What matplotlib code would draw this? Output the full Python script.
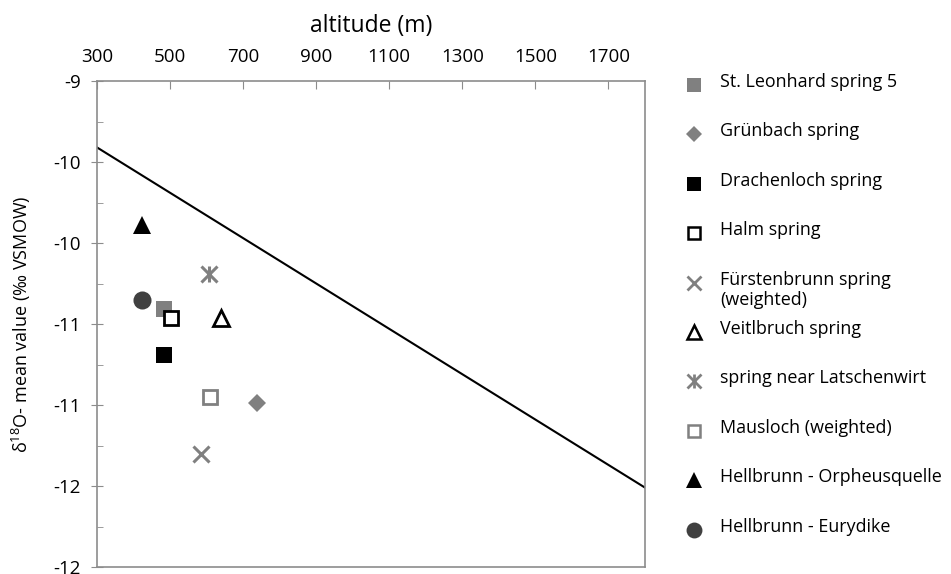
import matplotlib
matplotlib.use("Agg")
import matplotlib.pyplot as plt
from matplotlib.ticker import MultipleLocator, FuncFormatter
import math

plt.rcParams['font.family'] = ['Open Sans', 'DejaVu Sans']
plt.rcParams['mathtext.fontset'] = 'custom'
plt.rcParams['mathtext.rm'] = 'Open Sans'
plt.rcParams['mathtext.it'] = 'Open Sans:italic'

# spring name, altitude (m), mean d18O (permil VSMOW)
springs = ["St. Leonhard spring 5", "Grünbach spring", "Drachenloch spring",
           "Halm spring", "Fürstenbrunn spring\n(weighted)", "Veitlbruch spring",
           "spring near Latschenwirt", "Mausloch (weighted)",
           "Hellbrunn - Orpheusquelle", "Hellbrunn - Eurydike"]
altitude = [483, 738, 483, 503, 585, 640, 607, 610, 423, 423]
d18o = [-10.41, -10.99, -10.69, -10.46, -11.30, -10.46, -10.19, -10.95, -9.89, -10.35]

# altitude effect line
line_alt = [300, 1800]
line_d18o = [-9.41, -11.51]

GRAY = "#808080"
DARK = "#404040"
AXC = "#8c8c8c"
# marker, size, face colour, edge colour, edge width
styles = [
    ("s", 11, GRAY, GRAY, 0),
    ("D", 9, GRAY, GRAY, 0),
    ("s", 11, "black", "black", 0),
    ("s", 10, "white", "black", 2),
    ("x", 11, GRAY, GRAY, 2.2),
    ("^", 11, "white", "black", 2),
    ("x", 11, GRAY, GRAY, 2.2),
    ("s", 10, "white", GRAY, 2),
    ("^", 13, "black", "black", 0),
    ("o", 13, DARK, DARK, 0),
]

fig = plt.figure(figsize=(9.51, 5.74), dpi=100)
ax = fig.add_axes([97 / 951, 1 - 567 / 574, (645 - 97) / 951, (567 - 81) / 574])

ax.plot(line_alt, line_d18o, color="black", lw=1.5, zorder=2)

for i, (m, s, fc, ec, ew) in enumerate(styles):
    ax.plot(altitude[i], d18o[i], marker=m, ms=s, mfc=fc, mec=ec, mew=ew,
            linestyle="none", zorder=3)
    if springs[i] == "spring near Latschenwirt":
        ax.plot(altitude[i], d18o[i], marker="|", ms=s, mec=GRAY, mew=2.2,
                linestyle="none", zorder=3)

ax.set_xlim(300, 1800)
ax.set_ylim(-12, -9)
ax.xaxis.tick_top()
ax.xaxis.set_label_position("top")
ax.set_xticks(range(300, 1800, 200))
ax.yaxis.set_major_locator(MultipleLocator(0.5))
ax.yaxis.set_minor_locator(MultipleLocator(0.25))


def round_half_away(v, pos):
    return "%d" % int(math.copysign(math.floor(abs(v) + 0.5), v))


ax.yaxis.set_major_formatter(FuncFormatter(round_half_away))

for sp in ax.spines.values():
    sp.set_color(AXC)
    sp.set_linewidth(1.2)

ax.tick_params(axis="x", which="major", direction="in", length=6, color=AXC,
               labelsize=13.5, pad=11)
ax.tick_params(axis="y", which="major", direction="inout", length=9, color=AXC,
               labelsize=13.5, pad=7)
ax.tick_params(axis="y", which="minor", direction="in", length=4, color=AXC)

ax.set_xlabel("altitude (m)", fontsize=16.5, labelpad=11)
ax.set_ylabel(r"δ$^{18}$O- mean value (‰ VSMOW)", fontsize=13, labelpad=15)

# legend drawn as a column of marker + label pairs
lx_mark = 694 / 951
lx_text = 720 / 951
for i, (m, s, fc, ec, ew) in enumerate(styles):
    yc = 1 - (85 + 49.4 * i) / 574
    ms = s * 0.88
    fig.lines.append(plt.Line2D([lx_mark], [yc], marker=m, ms=ms, mfc=fc, mec=ec,
                                mew=ew * 0.9, transform=fig.transFigure,
                                linestyle="none"))
    if springs[i] == "spring near Latschenwirt":
        fig.lines.append(plt.Line2D([lx_mark], [yc], marker="|", ms=ms, mec=GRAY,
                                    mew=ew * 0.9, transform=fig.transFigure,
                                    linestyle="none"))
    fig.text(lx_text, yc + 12 / 574, springs[i], fontsize=12.9, va="top",
             ha="left", linespacing=1.2)

fig.savefig("out.png", dpi=100)
